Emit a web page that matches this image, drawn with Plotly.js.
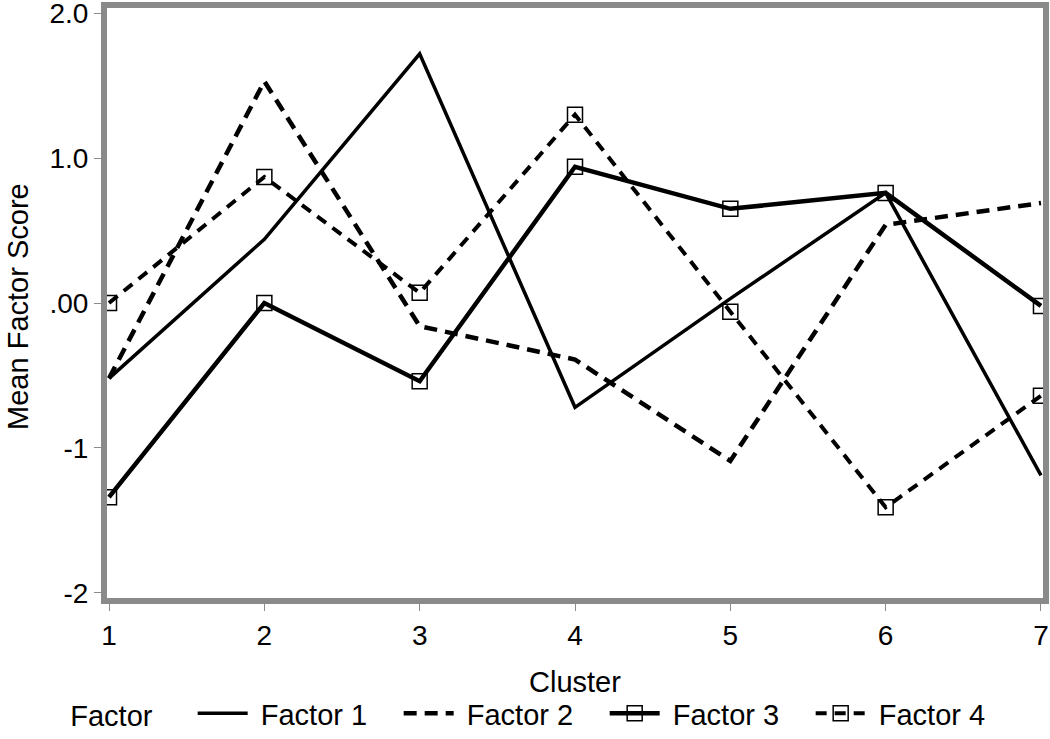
<!DOCTYPE html>
<html>
<head>
<meta charset="utf-8">
<script src="https://cdn.plot.ly/plotly-3.0.1.min.js"></script>
<style>
  html, body { margin: 0; padding: 0; background: #fff; }
  #chart { width: 1050px; height: 739px; }
</style>
</head>
<body>
<div id="chart"></div>
<script>
// cluster numbers on the x axis
var clusters = [1, 2, 3, 4, 5, 6, 7];

// mean factor scores per cluster
var factor1 = [-0.52, 0.44, 1.72, -0.72, 0.03, 0.76, -1.19];
var factor2 = [-0.52, 1.53, -0.16, -0.39, -1.09, 0.54, 0.69];
var factor3 = [-1.34, 0.00, -0.54, 0.94, 0.65, 0.76, -0.02];
var factor4 = [0.00, 0.87, 0.07, 1.30, -0.06, -1.41, -0.64];

var seriesNames = ["Factor 1", "Factor 2", "Factor 3", "Factor 4"];

// y tick labels as printed in the original
var yTickVals = [-2, -1, 0, 1, 2];
var yTickText = ["-2", "-1", ".00", "1.0", "2.0"];

var fontFam = "Liberation Sans, Arial, Helvetica, sans-serif";
var grey = "#8a8a8a";
var nb = "\u00a0";

var trace1 = {
  x: clusters, y: factor1, name: nb + seriesNames[0],
  type: "scatter", mode: "lines",
  line: {color: "#000", width: 3.5}
};
var trace2 = {
  x: clusters, y: factor2, name: nb + seriesNames[1],
  type: "scatter", mode: "lines",
  line: {color: "#000", width: 4.5, dash: "13px,8px"}
};
var trace3 = {
  x: clusters, y: factor3, name: nb + seriesNames[2],
  type: "scatter", mode: "lines+markers",
  line: {color: "#000", width: 4.5},
  marker: {symbol: "square-open", size: 15, color: "#000", line: {width: 1.5, color: "#000"}}
};
var trace4 = {
  x: clusters, y: factor4, name: nb + seriesNames[3],
  type: "scatter", mode: "lines+markers",
  line: {color: "#000", width: 4, dash: "11px,8px"},
  marker: {symbol: "square-open", size: 15, color: "#000", line: {width: 1.5, color: "#000"}}
};

var data = [trace1, trace2, trace3, trace4];

var layout = {
  width: 1050,
  height: 739,
  paper_bgcolor: "#fff",
  plot_bgcolor: "#fff",
  font: {family: fontFam, size: 28, color: "#000"},
  margin: {l: 107, r: 7, t: 8, b: 141, pad: 0},
  showlegend: true,
  xaxis: {
    range: [0.987, 7.013],
    tickvals: clusters,
    ticks: "outside", ticklen: 7, tickwidth: 1, tickcolor: grey,
    showgrid: false, zeroline: false,
    showline: true, linecolor: grey, linewidth: 6, mirror: true,
    tickfont: {size: 28},
    ticklabeloverflow: "allow"
  },
  yaxis: {
    range: [-2.036, 2.036],
    tickvals: yTickVals,
    ticktext: yTickText,
    ticks: "outside", ticklen: 7, tickwidth: 1, tickcolor: grey,
    showgrid: false, zeroline: false,
    showline: true, linecolor: grey, linewidth: 6, mirror: true,
    tickfont: {size: 28},
    ticklabeloverflow: "allow"
  },
  // axis titles placed as annotations so they sit where the original has them
  annotations: [
    {text: "Cluster", xref: "paper", yref: "paper", x: 0.5, y: -0.142,
     xanchor: "center", yanchor: "middle", showarrow: false, font: {size: 29}},
    {text: "Mean Factor Score", xref: "paper", yref: "paper", x: -0.0951, y: 0.495,
     xanchor: "center", yanchor: "middle", textangle: -90, showarrow: false, font: {size: 29}}
  ],
  legend: {
    orientation: "h",
    xref: "container", yref: "container",
    x: 0.065, y: -0.004, xanchor: "left", yanchor: "bottom",
    title: {text: "Factor" + nb + nb + nb + nb, side: "left", font: {size: 29}},
    font: {size: 29},
    itemwidth: 50,
    entrywidth: 141,
    bgcolor: "rgba(0,0,0,0)"
  }
};

Plotly.newPlot("chart", data, layout, {staticPlot: true});
</script>
</body>
</html>
